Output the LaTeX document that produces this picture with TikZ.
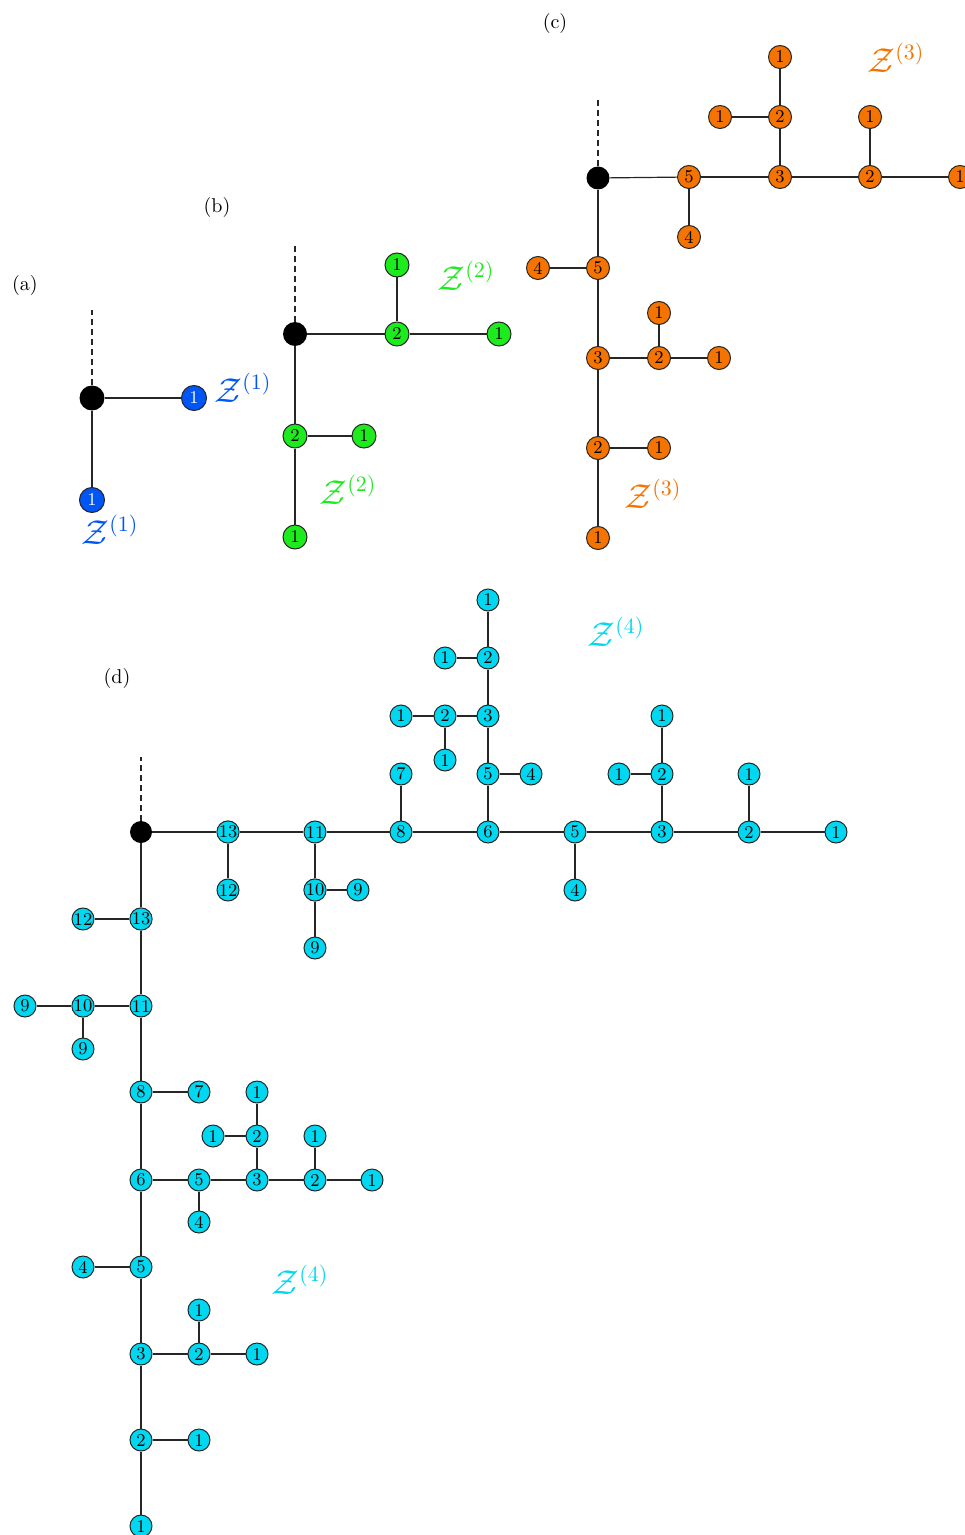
\documentclass[tikz,border=0pt]{standalone}
\definecolor{zblue}{RGB}{0,85,245}
\definecolor{zgreen}{RGB}{30,235,30}
\definecolor{zorange}{RGB}{245,115,0}
\definecolor{zcyan}{RGB}{0,215,240}
\begin{document}
\begin{tikzpicture}[x=0.5pt,y=-0.5pt,
  edge/.style={line width=0.6pt, black!85},
  dashedge/.style={line width=0.6pt, black!85, dash pattern=on 3pt off 2pt},
  rootn/.style={circle, fill=black, inner sep=0pt},
  vn/.style={circle, draw=black!85, line width=0.5pt, inner sep=0pt, font=\small},
  na/.style={vn, fill=zblue, text=white, minimum size=12.5pt},
  nb/.style={vn, fill=zgreen, minimum size=12pt},
  nc/.style={vn, fill=zorange, minimum size=11.5pt},
  nd/.style={vn, fill=zcyan, minimum size=11pt},
  zl/.style={font=\fontsize{16}{18}\selectfont}
]
\useasboundingbox (0,0) rectangle (964,1535);

% ---------- (a)
\node (la) at (25,286) {(a)};
\node[rootn, minimum size=12.5pt] (a0) at (92,398) {};
\node[na] (a1) at (194,398) {1};
\node[na] (a2) at (92,500) {1};
\coordinate (at) at (92,310);
\draw[dashedge] (a0) -- (at);
\draw[edge] (a0) -- (a1);
\draw[edge] (a0) -- (a2);
\node[zl, text=zblue] (za1) at (243,388) {$\mathcal{Z}^{(1)}$};
\node[zl, text=zblue] (za2) at (110,530) {$\mathcal{Z}^{(1)}$};

% ---------- (b)
\node (lb) at (217,208) {(b)};
\node[rootn, minimum size=12pt] (b0) at (295,334) {};
\foreach \n/\p/\t in {b1/{397,334}/2, b2/{397,265}/1, b3/{499,334}/1, b4/{295,436}/2, b5/{364,436}/1, b6/{295,537}/1}
  \node[nb] (\n) at (\p) {\t};
\coordinate (bt) at (295,243);
\draw[dashedge] (b0) -- (bt);
\foreach \a/\b in {b0/b1, b1/b2, b1/b3, b0/b4, b4/b5, b4/b6}
  \draw[edge] (\a) -- (\b);
\node[zl, text=zgreen] (zb1) at (466,276) {$\mathcal{Z}^{(2)}$};
\node[zl, text=zgreen] (zb2) at (348,490) {$\mathcal{Z}^{(2)}$};

% ---------- (c)
\node (lc) at (555,24) {(c)};
\node[rootn, minimum size=11.5pt] (c0) at (598,178) {};
\foreach \n/\p/\t in {c1/{689,177}/5, c2/{689,237}/4, c3/{780,177}/3, c4/{780,117}/2, c5/{780,57}/1, c6/{720,117}/1, c7/{870,177}/2, c8/{870,117}/1, c9/{960,177}/1,
  c10/{598,268}/5, c11/{538,268}/4, c12/{598,358}/3, c13/{659,358}/2, c14/{659,313}/1, c15/{719,358}/1, c16/{598,448}/2, c17/{659,448}/1, c18/{598,538}/1}
  \node[nc] (\n) at (\p) {\t};
\coordinate (ct) at (598,98);
\draw[dashedge] (c0) -- (ct);
\foreach \a/\b in {c0/c1, c1/c2, c1/c3, c3/c4, c4/c5, c4/c6, c3/c7, c7/c8, c7/c9, c0/c10, c10/c11, c10/c12, c12/c13, c13/c14, c13/c15, c12/c16, c16/c17, c16/c18}
  \draw[edge] (\a) -- (\b);
\node[zl, text=zorange] (zc1) at (896,58) {$\mathcal{Z}^{(3)}$};
\node[zl, text=zorange] (zc2) at (653,494) {$\mathcal{Z}^{(3)}$};

% ---------- (d)
\node (ld) at (117,678) {(d)};
\node[rootn, minimum size=11pt] (d0) at (141,832) {};
\foreach \n/\p/\t in {h13/{228,832}/13, h12/{228,890}/12, h11/{315,832}/11, h10/{315,890}/10, h9a/{358,890}/9, h9b/{315,948}/9,
  h8/{401,832}/8, h7/{401,774}/7, h6/{488,832}/6, h5/{488,774}/5, h4/{531,774}/4, h3/{488,716}/3, h2a/{445,716}/2, h1a/{401,716}/1, h1b/{445,760}/1,
  h2b/{488,658}/2, h1c/{445,658}/1, h1d/{488,600}/1, h5b/{575,832}/5, h4b/{575,890}/4, h3b/{662,832}/3, h2c/{662,774}/2, h1e/{619,774}/1, h1f/{662,716}/1,
  h2d/{749,832}/2, h1g/{749,774}/1, h1h/{836,832}/1,
  v13/{141,919}/13, v12/{83,919}/12, v11/{141,1006}/11, v10/{83,1006}/10, v9a/{25,1006}/9, v9b/{83,1049}/9,
  v8/{141,1092}/8, v7/{199,1092}/7, v6/{141,1180}/6, v5/{199,1180}/5, v4/{199,1222}/4, v3/{257,1180}/3, v2a/{257,1136}/2, v1a/{213,1136}/1, v1b/{257,1092}/1,
  v2b/{315,1180}/2, v1c/{315,1136}/1, v1d/{372,1180}/1, v5b/{141,1267}/5, v4b/{83,1267}/4, v3b/{141,1354}/3, v2c/{199,1354}/2, v1e/{199,1310}/1, v1f/{257,1354}/1,
  v2d/{141,1440}/2, v1g/{199,1440}/1, v1h/{141,1526}/1}
  \node[nd] (\n) at (\p) {\t};
\coordinate (dt) at (141,757);
\draw[dashedge] (d0) -- (dt);
\foreach \a/\b in {d0/h13, h13/h12, h13/h11, h11/h10, h10/h9a, h10/h9b, h11/h8, h8/h7, h8/h6, h6/h5, h5/h4, h5/h3, h3/h2a, h2a/h1a, h2a/h1b, h3/h2b, h2b/h1c, h2b/h1d,
  h6/h5b, h5b/h4b, h5b/h3b, h3b/h2c, h2c/h1e, h2c/h1f, h3b/h2d, h2d/h1g, h2d/h1h,
  d0/v13, v13/v12, v13/v11, v11/v10, v10/v9a, v10/v9b, v11/v8, v8/v7, v8/v6, v6/v5, v5/v4, v5/v3, v3/v2a, v2a/v1a, v2a/v1b, v3/v2b, v2b/v1c, v2b/v1d,
  v6/v5b, v5b/v4b, v5b/v3b, v3b/v2c, v2c/v1e, v2c/v1f, v3b/v2d, v2d/v1g, v2d/v1h}
  \draw[edge] (\a) -- (\b);
\node[zl, text=zcyan] (zd1) at (616,632) {$\mathcal{Z}^{(4)}$};
\node[zl, text=zcyan] (zd2) at (300,1280) {$\mathcal{Z}^{(4)}$};
\end{tikzpicture}
\end{document}
